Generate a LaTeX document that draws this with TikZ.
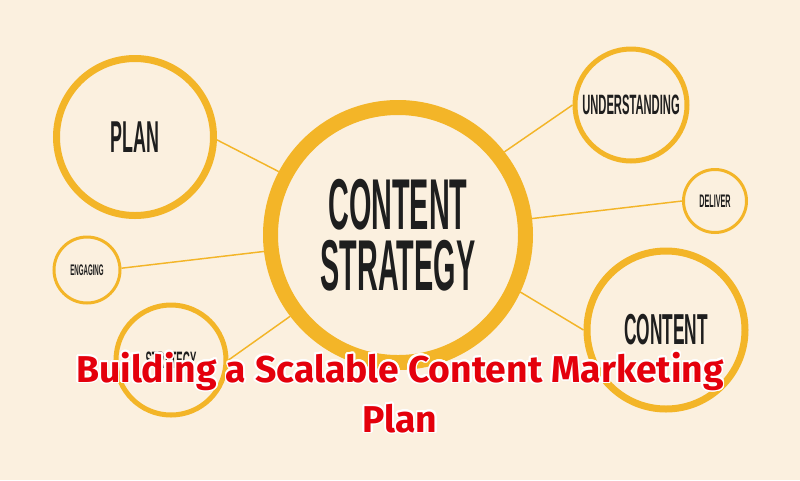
\documentclass[tikz,border=0pt]{standalone}
\usepackage{fontspec}
\usepackage{contour}
\setmainfont{Liberation Sans}
\newfontfamily\gothic[FakeStretch=0.4]{Liberation Sans}
\newfontfamily\titlefont{Fira Sans}
\definecolor{cream}{RGB}{251,240,223}
\definecolor{mustard}{RGB}{243,181,40}
\definecolor{inkblack}{RGB}{30,30,30}
\definecolor{titlered}{RGB}{228,0,12}
\contourlength{1.2pt}
\contournumber{24}

\begin{document}
\begin{tikzpicture}[x=0.75pt,y=-0.75pt,
    ring/.style={circle, draw=mustard, fill=cream, inner sep=0pt, text=inkblack, align=center},
    spoke/.style={mustard, line width=1.1pt}]
    % page
    \useasboundingbox (0,0) rectangle (800,480);
    \fill[cream] (0,0) rectangle (800,480);

    % hub
    \node[ring, line width=11.25pt, minimum size=191.25pt,
          font=\gothic\bfseries\fontsize{54}{45.75}\selectfont] (core) at (398,235) {CONTENT\\STRATEGY};

    % satellites
    \node[ring, line width=5.25pt, minimum size=117.75pt,
          font=\gothic\bfseries\fontsize{33.5}{36}\selectfont] (plan) at (135,137) {PLAN};
    \node[ring, line width=2.25pt, minimum size=49.5pt,
          font=\gothic\bfseries\fontsize{11.5}{13}\selectfont] (engaging) at (87,270) {ENGAGING};
    \node[ring, line width=3.75pt, minimum size=82.5pt,
          font=\gothic\bfseries\fontsize{17.8}{20}\selectfont] (strategy) at (171,360) {STRATEGY};
    \node[ring, line width=3.75pt, minimum size=84pt,
          font=\gothic\bfseries\fontsize{21}{24}\selectfont] (understanding) at (631,105) {UNDERSTANDING};
    \node[ring, line width=2.25pt, minimum size=47.25pt,
          font=\gothic\bfseries\fontsize{13.6}{15}\selectfont] (deliver) at (715,201) {DELIVER};
    \node[ring, line width=5.25pt, minimum size=118.5pt,
          font=\gothic\bfseries\fontsize{32.5}{36}\selectfont] (content) at (666,330) {CONTENT};

    % spokes
    \draw[spoke] (plan.-2) -- (core.152);
    \draw[spoke] (engaging.3) -- (core.187);
    \draw[spoke] (strategy.0) -- (core.217);
    \draw[spoke] (understanding.180) -- (core.38);
    \draw[spoke] (deliver.180) -- (core.7);
    \draw[spoke] (content.180) -- (core.-25);

    % title
    \node[font=\titlefont\bfseries\fontsize{28}{37.5}\selectfont, text=titlered, align=center, anchor=base]
        (title) at (400,432) {\contour{white}{Building a Scalable Content Marketing}\\\contour{white}{Plan}};
\end{tikzpicture}
\end{document}
